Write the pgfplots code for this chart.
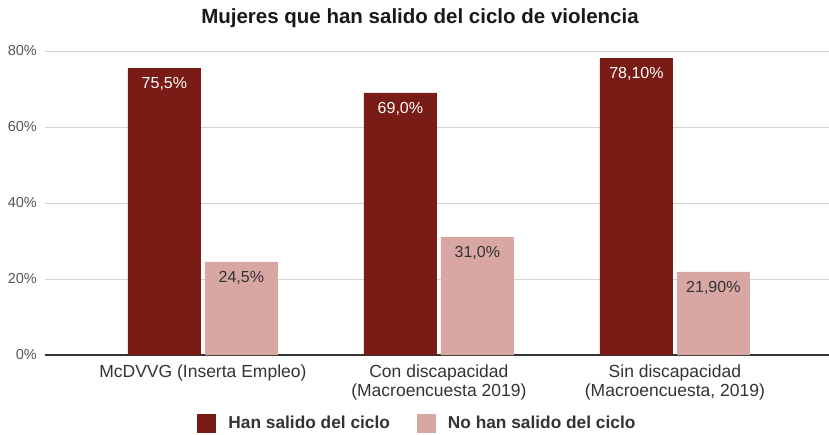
\documentclass[border=0pt]{standalone}
\usepackage{pgfplots}
\pgfplotsset{compat=1.18}
\usepackage{fontspec}
\setmainfont{Liberation Sans}

\definecolor{hansalido}{HTML}{7A1C16}
\definecolor{nosalido}{HTML}{D9A7A3}
\definecolor{gridgray}{HTML}{D4D4D4}
\definecolor{ticktext}{HTML}{555555}
\definecolor{labtext}{HTML}{333333}

\begin{document}
\begin{tikzpicture}
    % fondo / tamaño total 829 x 435
    \path[use as bounding box] (0pt,0pt) rectangle (829pt,-435pt);
    \node[font=\fontsize{20.5}{22}\selectfont\bfseries, text=black!90] at (420pt,-18pt)
        {Mujeres que han salido del ciclo de violencia};

    \begin{axis}[
            at={(45pt,-355pt)}, anchor=south west,
            scale only axis,
            width=784pt, height=304pt,
            xmin=-0.669, xmax=2.653,
            ymin=0, ymax=80,
            ytick={0,20,40,60,80},
            yticklabel={\pgfmathprintnumber{\tick}\%},
            /pgf/number format/assume math mode=true,
            yticklabel style={font=\fontsize{14.5}{16}\selectfont, text=ticktext, inner sep=0pt, xshift=-8pt},
            xtick={0,1,2},
            xticklabels={McDVVG (Inserta Empleo), {Con discapacidad\\(Macroencuesta 2019)}, {Sin discapacidad\\(Macroencuesta, 2019)}},
            xticklabel style={font=\fontsize{17.5}{18.5}\selectfont, text=labtext, align=center, inner sep=0pt, yshift=-10pt},
            major tick length=0pt,
            axis lines=left,
            axis line style={-},
            y axis line style={draw=none},
            x axis line style={draw=labtext, line width=1.3pt},
            ymajorgrids,
            major grid style={draw=gridgray, line width=0.9pt},
            ybar, bar width=0.309,
            point meta=explicit symbolic,
            nodes near coords,
            every node near coord/.append style={anchor=center, yshift=-16pt, font=\fontsize{16}{17}\selectfont},
            legend columns=2,
            legend style={at={(0.475,-0.224)}, anchor=center, draw=none, fill=none,
                font=\fontsize{17.3}{19}\selectfont\bfseries, text=labtext,
                /tikz/every odd column/.append style={column sep=10pt},
                /tikz/every even column/.append style={column sep=25pt}},
            legend image code/.code={\fill[#1] (0pt,-9.5pt) rectangle (19pt,9.5pt);},
        ]
        \addplot[fill=hansalido, draw=none, bar shift=-0.163,
            every node near coord/.append style={text=white}]
            coordinates {(0,75.5) [75,5\%] (1,69.0) [69,0\%] (2,78.1) [78,10\%]};
        \addlegendentry{Han salido del ciclo}
        \addplot[fill=nosalido, draw=none, bar shift=0.163,
            every node near coord/.append style={text=labtext}]
            coordinates {(0,24.5) [24,5\%] (1,31.0) [31,0\%] (2,21.9) [21,90\%]};
        \addlegendentry{No han salido del ciclo}
    \end{axis}
\end{tikzpicture}
\end{document}
